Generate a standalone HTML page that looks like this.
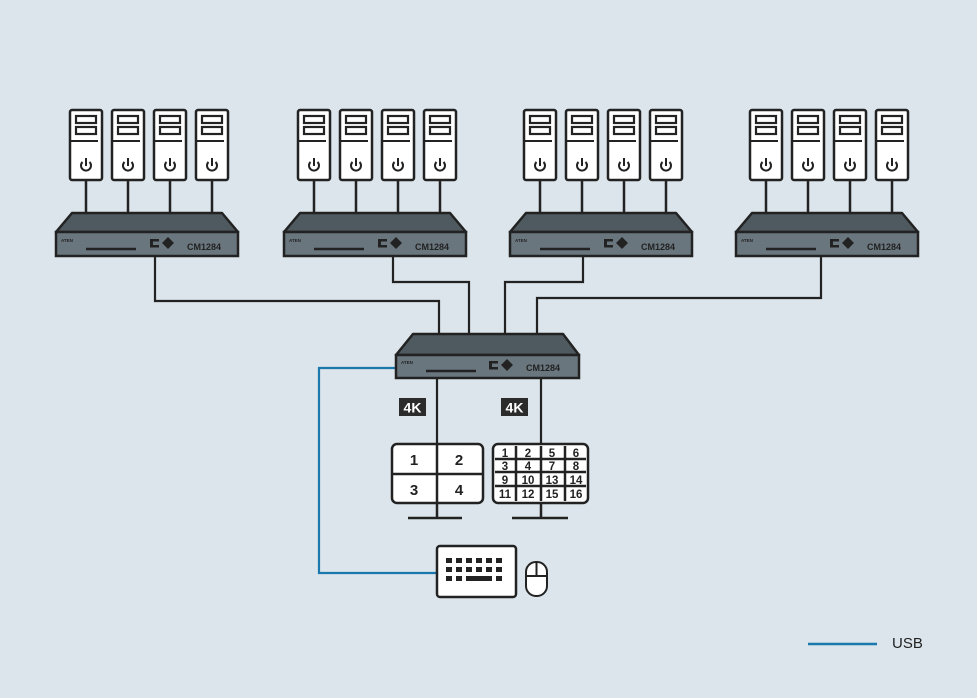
<!DOCTYPE html>
<html><head><meta charset="utf-8"><style>
html,body{margin:0;padding:0;background:#dbe5eb;}
svg{display:block;font-family:"Liberation Sans",sans-serif;}
</style></head><body>
<svg width="977" height="698" viewBox="0 0 977 698" xmlns="http://www.w3.org/2000/svg">
<defs>
<g id="tw">
<line x1="16" y1="70" x2="16" y2="103" stroke="#222" stroke-width="2.5"/>
<rect x="0" y="0" width="32" height="70" rx="2" fill="#fff" stroke="#222" stroke-width="2.5"/>
<rect x="6" y="6" width="20" height="7" fill="#fff" stroke="#222" stroke-width="2.2"/>
<rect x="6" y="17" width="20" height="7" fill="#fff" stroke="#222" stroke-width="2.2"/>
<line x1="0" y1="31" x2="28" y2="31" stroke="#222" stroke-width="2"/>
<path d="M12.5 52 A5 5 0 1 0 19.5 52" fill="none" stroke="#222" stroke-width="2"/>
<line x1="16" y1="48" x2="16" y2="56" stroke="#222" stroke-width="2"/>
</g>
<g id="grp">
<use href="#tw" x="70" y="110"/><use href="#tw" x="112" y="110"/><use href="#tw" x="154" y="110"/><use href="#tw" x="196" y="110"/>
<polygon points="72,213 222,213 238,232 56,232" fill="#4e5960" stroke="#222" stroke-width="2.5" stroke-linejoin="round"/>
<rect x="56" y="232" width="182" height="24" fill="#6a767e" stroke="#222" stroke-width="2.5"/>
<line x1="86" y1="249" x2="136" y2="249" stroke="#222" stroke-width="2.5"/>
<rect x="150" y="239" width="9" height="2.5" fill="#222"/><rect x="150" y="245" width="9" height="2.5" fill="#222"/><rect x="150" y="239" width="3" height="8" fill="#222"/>
<polygon points="168,237 174,243 168,249 162,243" fill="#222"/>
</g>
</defs>
<!-- connectors -->
<g fill="none" stroke="#222" stroke-width="2.2">
<polyline points="155,256 155,301 439,301 439,334"/>
<polyline points="393,256 393,282 469,282 469,334"/>
<polyline points="583,256 583,282 505,282 505,334"/>
<polyline points="821,256 821,298 537,298 537,334"/>
<line x1="437" y1="378" x2="437" y2="445"/>
<line x1="541" y1="378" x2="541" y2="445"/>
</g>
<polyline points="396,368 319,368 319,573 437,573" fill="none" stroke="#1a78ad" stroke-width="2.2"/>
<line x1="808" y1="644" x2="877" y2="644" stroke="#1a78ad" stroke-width="2.5"/>
<text x="892" y="648" font-size="15" fill="#222">USB</text>

<use href="#grp" x="0" y="0"/>
<use href="#grp" x="228" y="0"/>
<use href="#grp" x="454" y="0"/>
<use href="#grp" x="680" y="0"/>
<g font-weight="bold" fill="#222">
<text x="187" y="250" font-size="9">CM1284</text><text x="415" y="250" font-size="9">CM1284</text><text x="641" y="250" font-size="9">CM1284</text><text x="867" y="250" font-size="9">CM1284</text>
<text x="61" y="242" font-size="4.5">ATEN</text><text x="289" y="242" font-size="4.5">ATEN</text><text x="515" y="242" font-size="4.5">ATEN</text><text x="741" y="242" font-size="4.5">ATEN</text>
</g>

<!-- central box -->
<polygon points="413,334 563,334 579,355 396,355" fill="#4e5960" stroke="#222" stroke-width="2.5" stroke-linejoin="round"/>
<rect x="396" y="355" width="183" height="23" fill="#6a767e" stroke="#222" stroke-width="2.5"/>
<line x1="426" y1="371" x2="476" y2="371" stroke="#222" stroke-width="2.5"/>
<rect x="489" y="361" width="9" height="2.5" fill="#222"/><rect x="489" y="367" width="9" height="2.5" fill="#222"/><rect x="489" y="361" width="3" height="8" fill="#222"/>
<polygon points="507,359 513,365 507,371 501,365" fill="#222"/>
<text x="526" y="371" font-size="9" font-weight="bold" fill="#222">CM1284</text>
<text x="401" y="364" font-size="4.5" font-weight="bold" fill="#222">ATEN</text>

<!-- 4K -->
<rect x="399" y="398" width="27" height="18" fill="#2b2b2b"/>
<text x="412.5" y="412.5" font-size="14" font-weight="bold" fill="#fff" text-anchor="middle">4K</text>
<rect x="501" y="398" width="27" height="18" fill="#2b2b2b"/>
<text x="514.5" y="412.5" font-size="14" font-weight="bold" fill="#fff" text-anchor="middle">4K</text>

<!-- monitor 1 -->
<g stroke="#222" stroke-width="2.5" fill="none">
<line x1="437" y1="503" x2="437" y2="517"/><line x1="408" y1="518" x2="462" y2="518"/>
<rect x="392" y="444" width="91" height="59" rx="5" fill="#fff"/>
<line x1="437" y1="444" x2="437" y2="503"/><line x1="392" y1="474" x2="483" y2="474"/>
<line x1="541" y1="503" x2="541" y2="517"/><line x1="512" y1="518" x2="568" y2="518"/>
<rect x="493" y="444" width="95" height="59" rx="5" fill="#fff"/>
<line x1="516" y1="446" x2="516" y2="501"/><line x1="541" y1="446" x2="541" y2="501"/><line x1="565" y1="446" x2="565" y2="501"/>
<line x1="495" y1="459" x2="586" y2="459"/><line x1="495" y1="472" x2="586" y2="472"/><line x1="495" y1="486" x2="586" y2="486"/>
</g>
<g font-weight="bold" fill="#222" text-anchor="middle" font-size="15">
<text x="414" y="465">1</text><text x="459" y="465">2</text><text x="414" y="495">3</text><text x="459" y="495">4</text>
</g>
<g font-weight="bold" fill="#222" text-anchor="middle" font-size="11.5">
<text x="505" y="457">1</text><text x="528" y="457">2</text><text x="552" y="457">5</text><text x="576" y="457">6</text>
<text x="505" y="470">3</text><text x="528" y="470">4</text><text x="552" y="470">7</text><text x="576" y="470">8</text>
<text x="505" y="484">9</text><text x="528" y="484">10</text><text x="552" y="484">13</text><text x="576" y="484">14</text>
<text x="505" y="498">11</text><text x="528" y="498">12</text><text x="552" y="498">15</text><text x="576" y="498">16</text>
</g>

<!-- keyboard -->
<rect x="437" y="546" width="79" height="51" rx="3" fill="#fff" stroke="#222" stroke-width="2.5"/>
<g fill="#222">
<rect x="446" y="558" width="6" height="5"/><rect x="456" y="558" width="6" height="5"/><rect x="466" y="558" width="6" height="5"/><rect x="476" y="558" width="6" height="5"/><rect x="486" y="558" width="6" height="5"/><rect x="496" y="558" width="6" height="5"/>
<rect x="446" y="567" width="6" height="5"/><rect x="456" y="567" width="6" height="5"/><rect x="466" y="567" width="6" height="5"/><rect x="476" y="567" width="6" height="5"/><rect x="486" y="567" width="6" height="5"/><rect x="496" y="567" width="6" height="5"/>
<rect x="446" y="576" width="6" height="5"/><rect x="456" y="576" width="6" height="5"/><rect x="466" y="576" width="26" height="5"/><rect x="496" y="576" width="6" height="5"/>
</g>
<rect x="526" y="562" width="21" height="34" rx="10" fill="#fff" stroke="#222" stroke-width="2"/>
<line x1="536.5" y1="562" x2="536.5" y2="576" stroke="#222" stroke-width="2"/>
<line x1="526" y1="576" x2="547" y2="576" stroke="#222" stroke-width="2"/>
</svg>
</body></html>
